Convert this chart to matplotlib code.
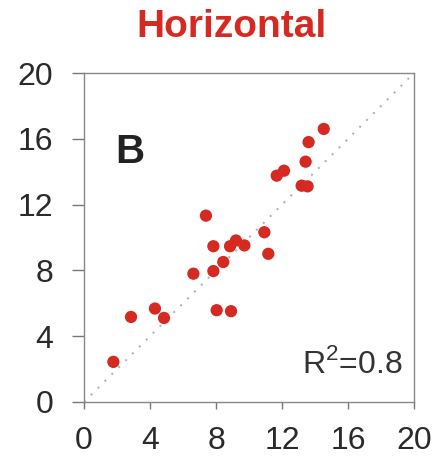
import matplotlib
matplotlib.use("Agg")
import matplotlib.pyplot as plt

x_vals = [1.78, 2.85, 4.30, 4.85, 6.63, 7.39, 7.84, 7.84, 8.04, 8.44, 8.91, 8.85, 9.21, 9.72,
          10.93, 11.17, 11.68, 12.12, 13.19, 13.55, 13.43, 13.61, 14.53]
y_vals = [2.44, 5.17, 5.68, 5.11, 7.80, 11.33, 9.47, 7.96, 5.58, 8.51, 5.52, 9.47, 9.82, 9.52,
          10.32, 9.01, 13.76, 14.06, 13.15, 13.11, 14.61, 15.80, 16.60]
ticks = [0, 4, 8, 12, 16, 20]
title = "Horizontal"
panel = "B"
r2_text = r"R$^{\mathregular{2}}$=0.8"

plt.rcParams['font.family'] = ['Liberation Sans', 'DejaVu Sans']
fig = plt.figure(figsize=(4.43, 4.61), dpi=100)
ax = fig.add_axes([0.1896, 0.128, 0.745, 0.7136])

ax.plot([0, 20], [0, 20], linestyle=(0, (1, 4)), color='#9ab3c0', linewidth=1.4, zorder=1)
ax.scatter(x_vals, y_vals, s=78, color='#d42a22', edgecolors='none', zorder=3)

ax.set_xlim(0, 20)
ax.set_ylim(0, 20)
ax.set_xticks(ticks)
ax.set_yticks(ticks)
ax.set_xticklabels([str(t) for t in ticks])
ax.set_yticklabels([str(t) for t in ticks])
ax.tick_params(axis='both', direction='out', width=1, color='#777777',
               labelsize=23, labelcolor='#2a2a2a')
ax.tick_params(axis='x', length=5, pad=12)
ax.tick_params(axis='y', length=9, pad=13)
for sp in ax.spines.values():
    sp.set_color('#888888')
    sp.set_linewidth(1)

ax.text(1.9, 14.55, panel, fontsize=29, fontweight='bold',
        color='#222222', ha='left', va='baseline')
ax.text(19.3, 1.76, r2_text, fontsize=23, color='#333333',
        ha='right', va='baseline')

fig.text(231.5 / 443, 1 - 27 / 461, title, fontsize=28, fontweight='bold', color='#d42a22',
         ha='center', va='center')

fig.savefig('out.png', dpi=100)
